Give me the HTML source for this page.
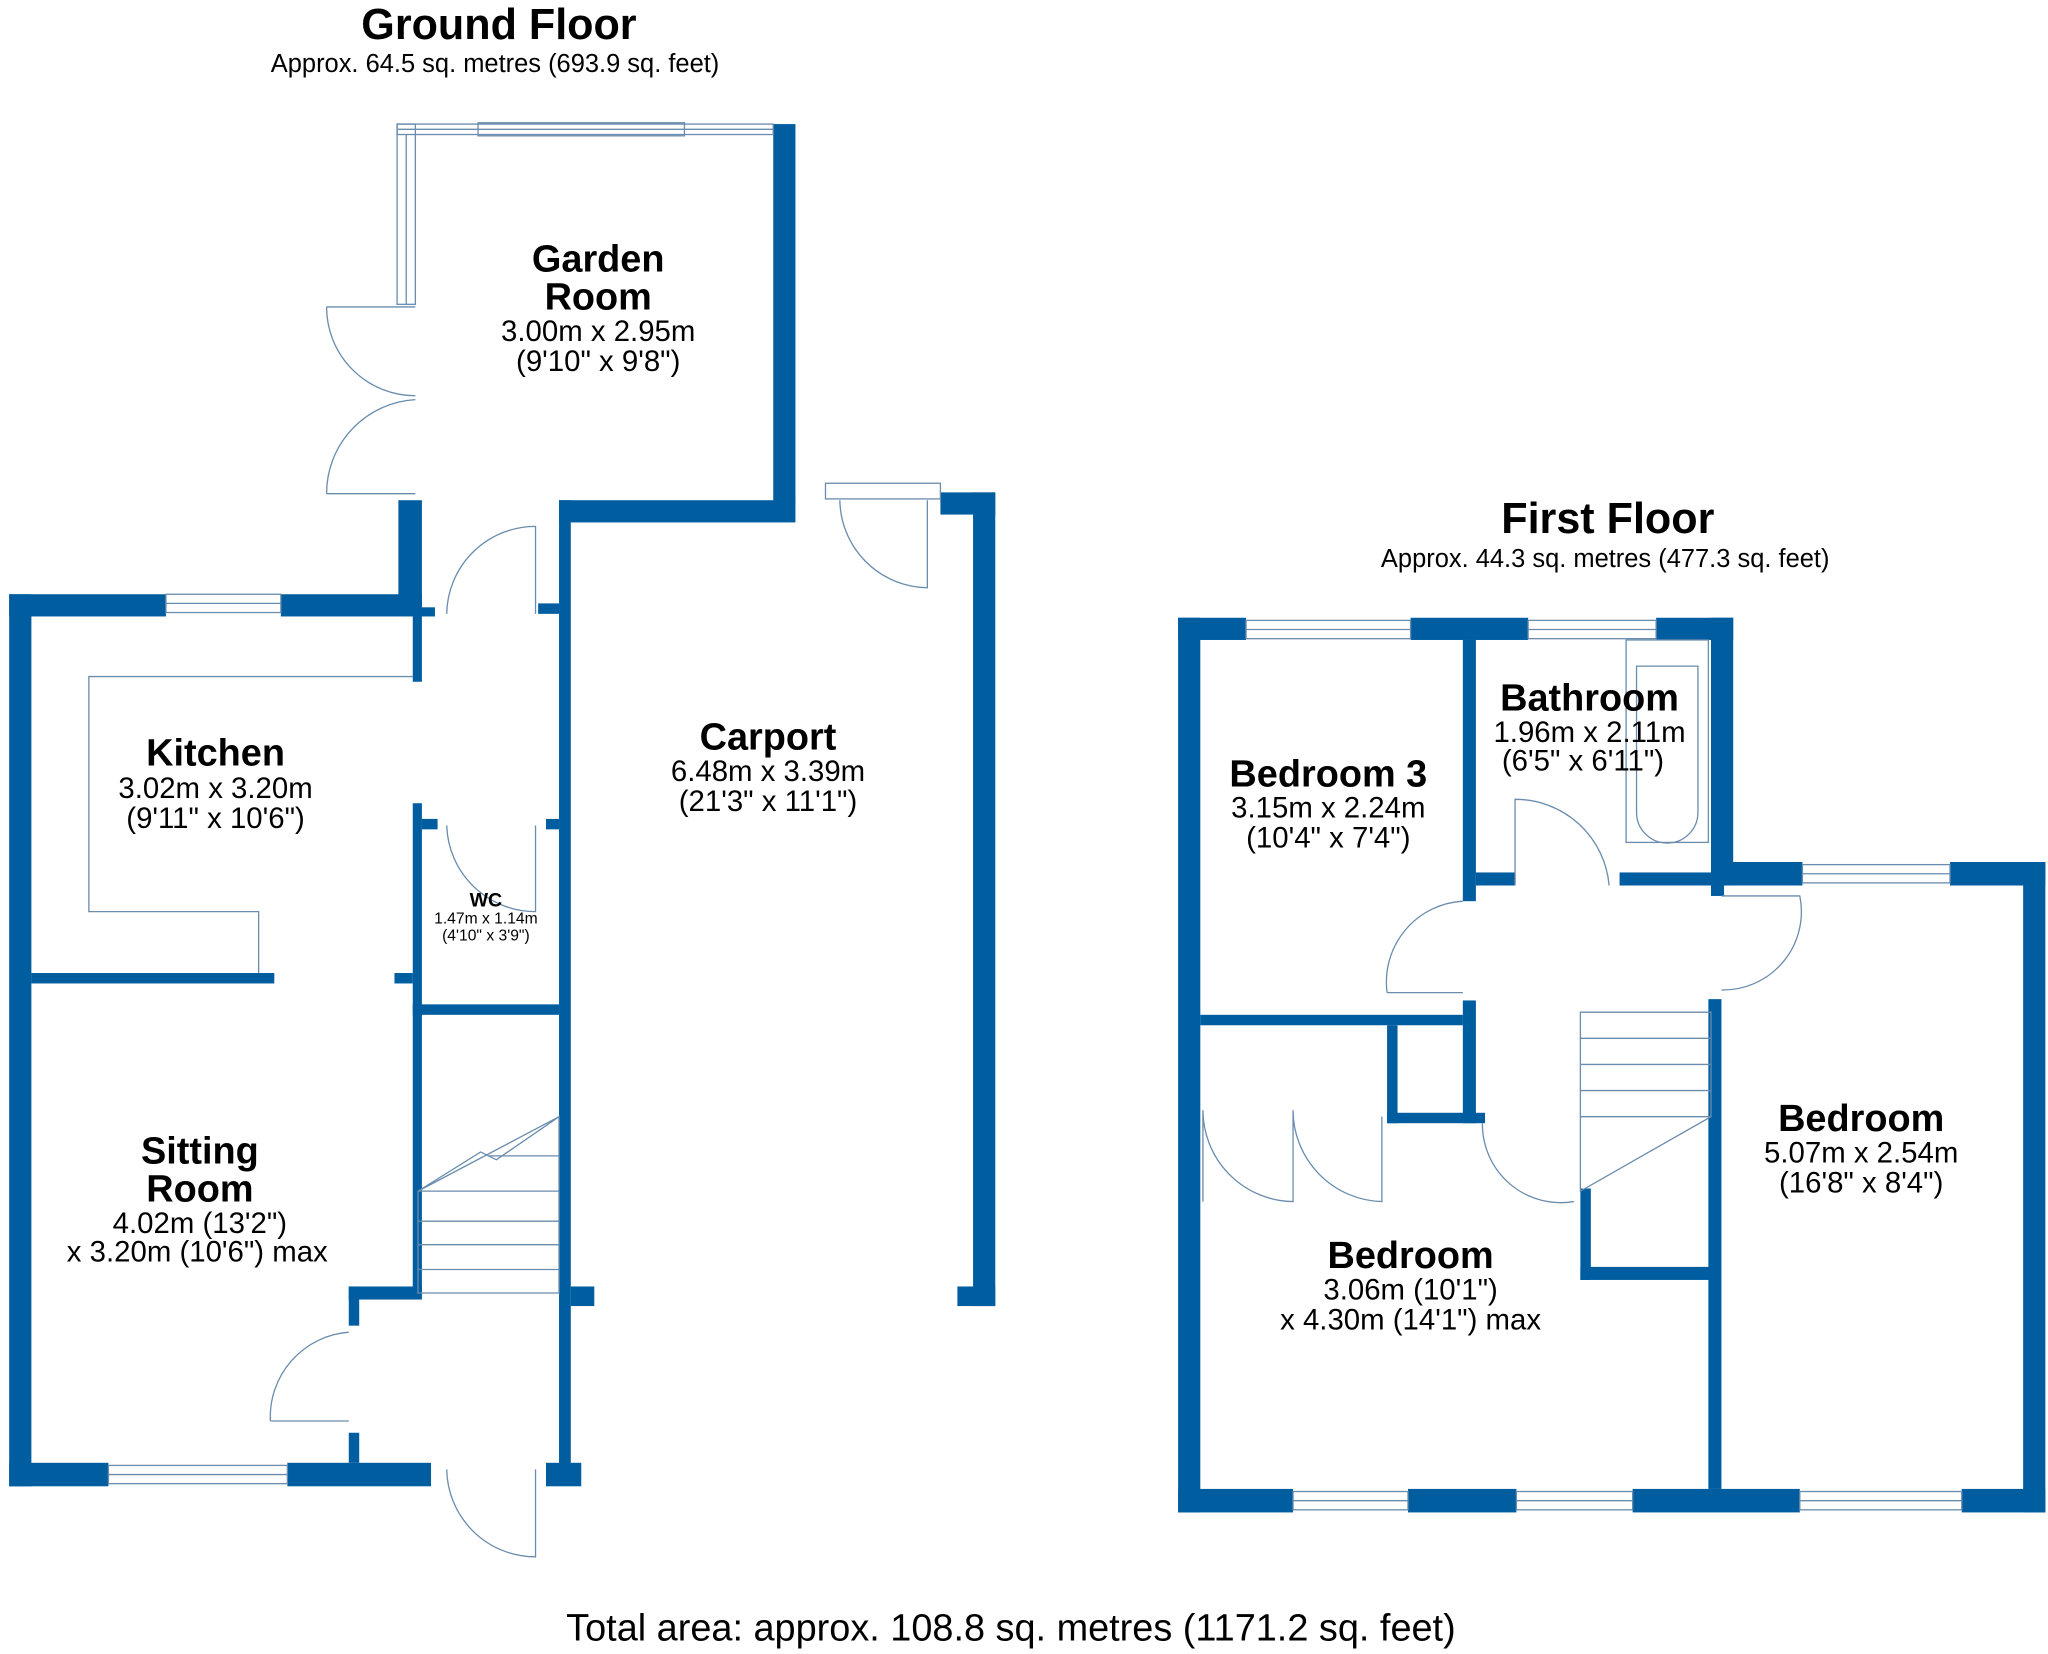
<!DOCTYPE html>
<html><head><meta charset="utf-8"><style>
html,body{margin:0;padding:0;background:#fff;}
svg{display:block;}
text{font-family:"Liberation Sans",Arial,sans-serif;fill:#000;}
.b{font-weight:bold;}
</style></head><body>
<svg width="2048" height="1654" viewBox="0 0 1568 1266.4" xmlns="http://www.w3.org/2000/svg">
<g fill="#005da0">
<rect x="592" y="95" width="17" height="290"/>
<rect x="428" y="383" width="181" height="17"/>
<rect x="720" y="377" width="42" height="17"/>
<rect x="745" y="377" width="17" height="623"/>
<rect x="733" y="985" width="29" height="15"/>
<rect x="305" y="383" width="18" height="87"/>
<rect x="428" y="383" width="9" height="752"/>
<rect x="7" y="455" width="120" height="17"/>
<rect x="215" y="455" width="108" height="17"/>
<rect x="7" y="455" width="17" height="683"/>
<rect x="7" y="1120" width="76" height="18"/>
<rect x="220" y="1120" width="110" height="18"/>
<rect x="24" y="745" width="186" height="8"/>
<rect x="316" y="470" width="7" height="52"/>
<rect x="316" y="615" width="7" height="375"/>
<rect x="302" y="745" width="14" height="8"/>
<rect x="316" y="769" width="112" height="8"/>
<rect x="323" y="465" width="10" height="7"/>
<rect x="412" y="462" width="16" height="8"/>
<rect x="323" y="627" width="12" height="8"/>
<rect x="418" y="627" width="10" height="8"/>
<rect x="267" y="985" width="56" height="10"/>
<rect x="267" y="985" width="8" height="30"/>
<rect x="267" y="1097" width="8" height="23"/>
<rect x="418" y="1120" width="27" height="18"/>
<rect x="437" y="985" width="18" height="15"/>
<rect x="902" y="473" width="17" height="685"/>
<rect x="902" y="473" width="52" height="17"/>
<rect x="1080" y="473" width="90" height="17"/>
<rect x="1268" y="473" width="59" height="17"/>
<rect x="1310" y="473" width="17" height="205"/>
<rect x="1310" y="660" width="70" height="18"/>
<rect x="1493" y="660" width="73" height="18"/>
<rect x="1549" y="660" width="17" height="498"/>
<rect x="902" y="1140" width="88" height="18"/>
<rect x="1078" y="1140" width="83" height="18"/>
<rect x="1250" y="1140" width="128" height="18"/>
<rect x="1502" y="1140" width="64" height="18"/>
<rect x="1120" y="490" width="10" height="200"/>
<rect x="1130" y="668" width="30" height="10"/>
<rect x="1240" y="668" width="70" height="10"/>
<rect x="1310" y="678" width="10" height="8"/>
<rect x="919" y="777" width="201" height="8"/>
<rect x="1062" y="785" width="8" height="75"/>
<rect x="1062" y="852" width="75" height="8"/>
<rect x="1120" y="766" width="10" height="94"/>
<rect x="1308" y="765" width="10" height="375"/>
<rect x="1210" y="910" width="8" height="70"/>
<rect x="1210" y="970" width="100" height="10"/>
</g>
<g fill="none" stroke="#6a8cad" stroke-width="1">
<rect x="304" y="95" width="288" height="8"/><line x1="304" y1="99" x2="592" y2="99"/>
<rect x="304" y="95" width="14" height="138"/><line x1="311" y1="103" x2="311" y2="233"/>
<rect x="366" y="94" width="158" height="10"/>
<rect x="127" y="455" width="88" height="14"/><line x1="127" y1="462" x2="215" y2="462"/>
<rect x="83" y="1122" width="137" height="14"/><line x1="83" y1="1129" x2="220" y2="1129"/>
<rect x="632" y="370" width="88" height="12"/>
<rect x="954" y="475" width="126" height="14"/><line x1="954" y1="482" x2="1080" y2="482"/>
<rect x="1170" y="475" width="98" height="14"/><line x1="1170" y1="482" x2="1268" y2="482"/>
<rect x="1380" y="662" width="113" height="14"/><line x1="1380" y1="669" x2="1493" y2="669"/>
<rect x="990" y="1142" width="88" height="14"/><line x1="990" y1="1149" x2="1078" y2="1149"/>
<rect x="1161" y="1142" width="89" height="14"/><line x1="1161" y1="1149" x2="1250" y2="1149"/>
<rect x="1378" y="1142" width="124" height="14"/><line x1="1378" y1="1149" x2="1502" y2="1149"/>
<polyline points="316,518 68,518 68,698 198,698 198,745"/>
<path d="M250,235 L318,235 M250,235 A68,68 0 0 0 318,303"/>
<path d="M250,378 L318,378 M250,378 A72,72 0 0 1 318,306"/>
<path d="M342,470 A68,68 0 0 1 410,403 L410,470"/>
<path d="M643,383 A68,68 0 0 0 710,450 L710,383"/>
<path d="M342,632 A68,68 0 0 0 410,698 L410,632"/>
<path d="M207,1088 L267,1088 M207,1088 A65,65 0 0 1 267,1020"/>
<path d="M342,1125 A68,68 0 0 0 410,1192 L410,1125"/>
<path d="M1160,678 L1160,612 A72,72 0 0 1 1232,678"/>
<path d="M1062,760 L1120,760 M1062,760 A62,62 0 0 1 1120,690"/>
<path d="M1318,758 A60,60 0 0 0 1378,686 L1318,686"/>
<path d="M1135,860 A60,60 0 0 0 1205,920"/>
<path d="M921,920 L921,850 A70,70 0 0 0 990,920 L990,850 A70,70 0 0 0 1058,920 L1058,855"/>
<rect x="1245" y="490" width="63" height="155"/>
<path d="M1253,510 L1300,510 L1300,622 A23,23 0 0 1 1253,622 Z"/>
<path d="M320,912 L428,855 L428,990 L320,990 Z"/>
<path d="M320,912 L368,882 L380,888 L428,855"/>
<line x1="320" y1="935" x2="428" y2="935"/><line x1="320" y1="953" x2="428" y2="953"/><line x1="320" y1="972" x2="428" y2="972"/>
<line x1="320" y1="912" x2="428" y2="912"/><line x1="374" y1="885" x2="428" y2="885"/>
<path d="M1210,775 L1310,775 L1310,855 L1210,912 Z"/>
<line x1="1210" y1="795" x2="1310" y2="795"/><line x1="1210" y1="815" x2="1310" y2="815"/><line x1="1210" y1="835" x2="1310" y2="835"/><line x1="1210" y1="855" x2="1310" y2="855"/>
</g>
<g text-anchor="middle">
<text x="382" y="30" font-size="33" class="b">Ground Floor</text>
<text x="379" y="55" font-size="19.5">Approx. 64.5 sq. metres (693.9 sq. feet)</text>
<text x="1231" y="408" font-size="33" class="b">First Floor</text>
<text x="1229" y="434" font-size="19.5">Approx. 44.3 sq. metres (477.3 sq. feet)</text>
<text x="774" y="1256" font-size="29">Total area: approx. 108.8 sq. metres (1171.2 sq. feet)</text>
<text x="458" y="208" font-size="29" class="b">Garden</text><text x="458" y="237" font-size="29" class="b">Room</text>
<text x="458" y="261" font-size="22.5">3.00m x 2.95m</text><text x="458" y="284" font-size="22.5">(9'10" x 9'8")</text>
<text x="588" y="574" font-size="29" class="b">Carport</text>
<text x="588" y="598" font-size="22.5">6.48m x 3.39m</text><text x="588" y="621" font-size="22.5">(21'3" x 11'1")</text>
<text x="165" y="586" font-size="29" class="b">Kitchen</text>
<text x="165" y="611" font-size="22.5">3.02m x 3.20m</text><text x="165" y="634" font-size="22.5">(9'11" x 10'6")</text>
<text x="372" y="694" font-size="15" class="b">WC</text>
<text x="372" y="707" font-size="12">1.47m x 1.14m</text><text x="372" y="720" font-size="12">(4'10" x 3'9")</text>
<text x="153" y="891" font-size="29" class="b">Sitting</text><text x="153" y="920" font-size="29" class="b">Room</text>
<text x="153" y="944" font-size="22.5">4.02m (13'2")</text><text x="151" y="966" font-size="22.5">x 3.20m (10'6") max</text>
<text x="1217" y="544" font-size="29" class="b">Bathroom</text>
<text x="1217" y="568" font-size="22.5">1.96m x 2.11m</text><text x="1212" y="590" font-size="22.5">(6'5" x 6'11")</text>
<text x="1017" y="602" font-size="29" class="b">Bedroom 3</text>
<text x="1017" y="626" font-size="22.5">3.15m x 2.24m</text><text x="1017" y="649" font-size="22.5">(10'4" x 7'4")</text>
<text x="1425" y="866" font-size="29" class="b">Bedroom</text>
<text x="1425" y="890" font-size="22.5">5.07m x 2.54m</text><text x="1425" y="913" font-size="22.5">(16'8" x 8'4")</text>
<text x="1080" y="971" font-size="29" class="b">Bedroom</text>
<text x="1080" y="995" font-size="22.5">3.06m (10'1")</text><text x="1080" y="1018" font-size="22.5">x 4.30m (14'1") max</text>
</g>
</svg>
</body></html>
